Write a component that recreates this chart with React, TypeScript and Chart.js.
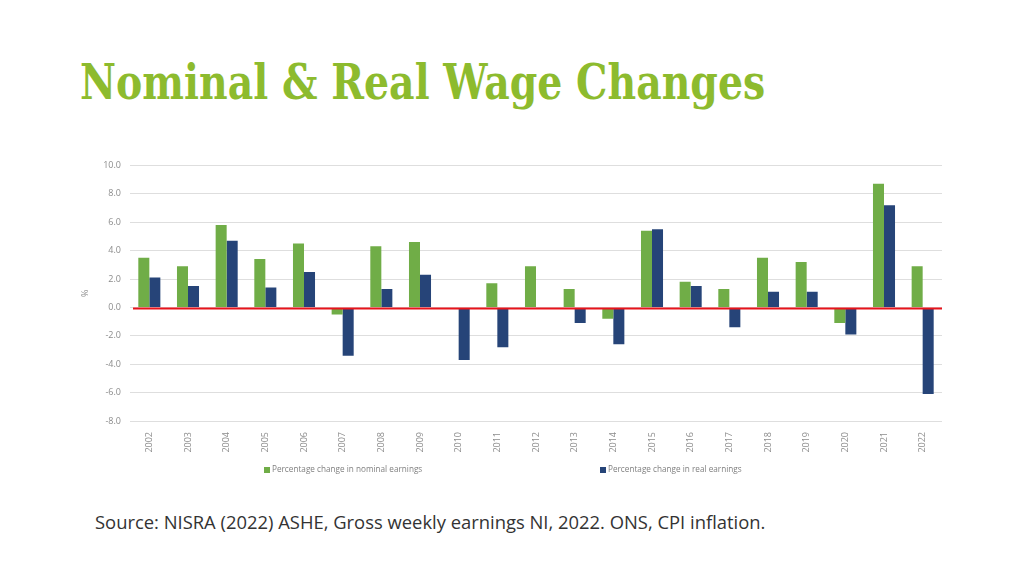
import React, { useEffect, useLayoutEffect, useRef } from 'react';
import { Chart, registerables } from 'chart.js';

Chart.register(...registerables);

const titleText = 'Nominal & Real Wage Changes';
const sourceText = 'Source: NISRA (2022) ASHE, Gross weekly earnings NI, 2022. ONS, CPI inflation.';

const years = ['2002', '2003', '2004', '2005', '2006', '2007', '2008', '2009', '2010', '2011', '2012', '2013', '2014', '2015', '2016', '2017', '2018', '2019', '2020', '2021', '2022'];
const nominal = [3.5, 2.9, 5.8, 3.4, 4.5, -0.5, 4.3, 4.6, 0.0, 1.7, 2.9, 1.3, -0.8, 5.4, 1.8, 1.3, 3.5, 3.2, -1.1, 8.7, 2.9];
const real = [2.1, 1.5, 4.7, 1.4, 2.5, -3.4, 1.3, 2.3, -3.7, -2.8, -0.1, -1.1, -2.6, 5.5, 1.5, -1.4, 1.1, 1.1, -1.9, 7.2, -6.1];
const seriesLabels = ['Percentage change in nominal earnings', 'Percentage change in real earnings'];
const yMin = -8;
const yMax = 10;
const yStep = 2;

const GREEN = '#70ad47';
const BLUE = '#264478';
const RED = '#e8131b';
const TICK = '#8c8c8c';

const zeroLine = {
  id: 'zeroLine',
  afterDatasetsDraw(chart: any) {
    const { ctx, chartArea, scales } = chart;
    const y = scales.y.getPixelForValue(0) + 1;
    ctx.save();
    ctx.strokeStyle = RED;
    ctx.lineWidth = 2;
    ctx.beginPath();
    ctx.moveTo(chartArea.left + 3, y);
    ctx.lineTo(chartArea.right, y);
    ctx.stroke();
    ctx.restore();
  },
};

export default function App() {
  const canvasRef = useRef<HTMLCanvasElement>(null);
  const titleRef = useRef<HTMLDivElement>(null);

  useLayoutEffect(() => {
    const el = titleRef.current;
    if (el) {
      const w = el.scrollWidth;
      if (w > 0) el.style.transform = `scaleX(${685 / w})`;
    }
  }, []);

  useEffect(() => {
    if (!canvasRef.current) return;
    const chart = new Chart(canvasRef.current, {
      type: 'bar',
      data: {
        labels: years,
        datasets: [
          { label: seriesLabels[0], data: nominal, backgroundColor: GREEN, categoryPercentage: 0.57, barPercentage: 1 },
          { label: seriesLabels[1], data: real, backgroundColor: BLUE, categoryPercentage: 0.57, barPercentage: 1 },
        ],
      },
      options: {
        animation: false,
        responsive: false,
        maintainAspectRatio: false,
        layout: { padding: { top: 0, left: 0, right: 8, bottom: 0 } },
        plugins: { legend: { display: false }, tooltip: { enabled: false } },
        scales: {
          x: {
            grid: { display: false },
            border: { display: false },
            ticks: { minRotation: 90, maxRotation: 90, padding: 3, color: TICK, font: { family: 'Open Sans', size: 9 } },
            afterFit: (s: any) => { s.height = 50; },
          },
          y: {
            min: yMin,
            max: yMax,
            ticks: {
              stepSize: yStep,
              padding: 9,
              color: TICK,
              font: { family: 'Open Sans', size: 9 },
              callback: (v: any) => Number(v).toFixed(1),
            },
            grid: { color: '#dedede', drawTicks: false },
            border: { display: false },
            title: { display: true, text: '%', color: TICK, font: { family: 'Open Sans', size: 9 }, padding: 0 },
            afterFit: (s: any) => { s.width = 50; },
          },
        },
      },
      plugins: [zeroLine],
    } as any);
    return () => chart.destroy();
  }, []);

  return (
    <div style={{ position: 'fixed', left: 0, top: 0, width: 1024, height: 576, background: '#fff', overflow: 'hidden' }}>
      <div
        ref={titleRef}
        style={{
          position: 'absolute', left: 80, top: 52, whiteSpace: 'nowrap', transformOrigin: '0 0',
          fontFamily: '"DejaVu Serif", serif', fontWeight: 'bold', fontSize: 48, lineHeight: '60px', color: '#8dbb2e',
        }}
      >
        {titleText}
      </div>
      <canvas ref={canvasRef} width={870} height={320} style={{ position: 'absolute', left: 80, top: 151, width: 870, height: 320 }} />
      <div style={{ position: 'absolute', left: 264, top: 463, fontFamily: '"Open Sans", sans-serif', fontSize: 8.2, color: '#7f7f7f', lineHeight: '12px', whiteSpace: 'nowrap' }}>
        <span style={{ display: 'inline-block', width: 6, height: 6, background: GREEN, marginRight: 2, verticalAlign: 'middle' }} />
        {seriesLabels[0]}
      </div>
      <div style={{ position: 'absolute', left: 600, top: 463, fontFamily: '"Open Sans", sans-serif', fontSize: 8.2, color: '#7f7f7f', lineHeight: '12px', whiteSpace: 'nowrap' }}>
        <span style={{ display: 'inline-block', width: 6, height: 6, background: BLUE, marginRight: 2, verticalAlign: 'middle' }} />
        {seriesLabels[1]}
      </div>
      <div style={{ position: 'absolute', left: 95, top: 509, fontFamily: '"Open Sans", sans-serif', fontSize: 18.4, color: '#333', lineHeight: '26px', whiteSpace: 'nowrap' }}>
        {sourceText}
      </div>
    </div>
  );
}
